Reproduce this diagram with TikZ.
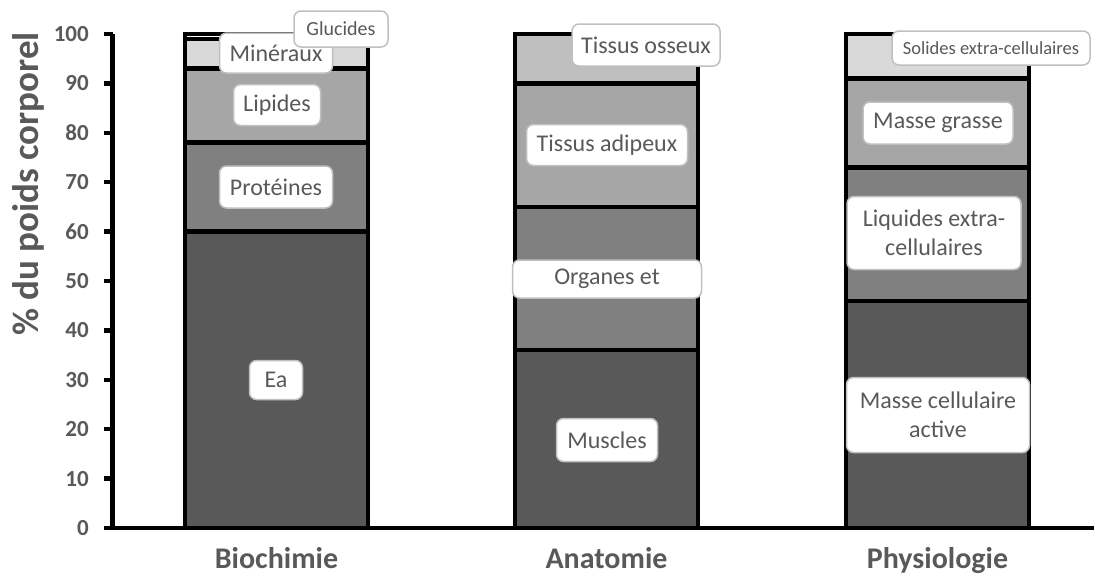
\documentclass[tikz,border=0pt]{standalone}
\usepackage{fontspec}
\setmainfont{Carlito}
\definecolor{txt}{HTML}{595959}
\definecolor{ca}{HTML}{595959}
\definecolor{cb}{HTML}{808080}
\definecolor{cc}{HTML}{A6A6A6}
\definecolor{cd}{HTML}{BFBFBF}
\definecolor{ce}{HTML}{D9D9D9}
\definecolor{bord}{HTML}{C0C0C0}
\tikzset{
  segbox/.style={draw=black, line width=4.5pt},
  lab/.style={draw=bord, line width=1.5pt, fill=white, rounded corners=7pt, text=txt,
    font=\fontsize{24}{29}\selectfont, align=center, inner sep=0pt},
  smalllab/.style={lab, font=\fontsize{20}{24}\selectfont},
  ticklab/.style={text=txt, font=\bfseries\fontsize{23}{25}\selectfont, anchor=east, inner sep=0pt},
  catlab/.style={text=txt, font=\bfseries\fontsize{30}{34}\selectfont, inner sep=0pt, anchor=base},
  axisline/.style={draw=black, line width=4.5pt},
}
\newcommand\mkseg[5]{\filldraw[segbox, fill=#5] (#1,{528-4.94*#3}) rectangle (#2,{528-4.94*#4});}
\begin{document}
\begin{tikzpicture}[x=1pt,y=-1pt]
\useasboundingbox (0,0) rectangle (1094,576);
% bars
\mkseg{185}{368}{0}{60}{ca}
\mkseg{185}{368}{60}{78}{cb}
\mkseg{185}{368}{78}{93}{cc}
\mkseg{185}{368}{93}{99}{ce}
\mkseg{185}{368}{99}{100}{white}
\mkseg{515}{698}{0}{36}{ca}
\mkseg{515}{698}{36}{65}{cb}
\mkseg{515}{698}{65}{90}{cc}
\mkseg{515}{698}{90}{100}{cd}
\mkseg{846}{1029}{0}{46}{ca}
\mkseg{846}{1029}{46}{73}{cb}
\mkseg{846}{1029}{73}{91}{cc}
\mkseg{846}{1029}{91}{100}{ce}
% axes
\coordinate (o) at (112.5,528);
\coordinate (ytop) at (112.5,34);
\coordinate (xend) at (1094,528);
\draw[axisline, line width=4pt] (o) -- (xend);
\draw[axisline] (ytop) -- (o);
\foreach \v in {0,10,...,100}{
  \coordinate (t\v) at (104,{528-4.94*\v});
  \draw[line width=4.5pt] (t\v) -- ++(9,0);
  \node[ticklab] (n\v) at (89,{528-4.94*\v}) {\v};
}
% axis title
\node[text=txt, font=\bfseries\fontsize{37}{40}\selectfont, rotate=90, inner sep=0pt] (ytitle) at (28,184) {\% du poids corporel};
% categories
\node[catlab] (bio) at (276.5,568) {Biochimie};
\node[catlab] (ana) at (606.5,568) {Anatomie};
\node[catlab] (phy) at (937.5,568) {Physiologie};
% labels
\node[lab, minimum width=113pt, minimum height=40pt] (min) at (276,53) {Minéraux};
\node[smalllab, minimum width=94pt, minimum height=36pt] (glu) at (341,29) {Glucides};
\node[lab, minimum width=87pt, minimum height=41pt] (lip) at (277,105) {Lipides};
\node[lab, minimum width=113pt, minimum height=42pt] (pro) at (276,187) {Protéines};
\node[lab, minimum width=53pt, minimum height=39pt] (eau) at (276,380) {Ea};
\node[lab, minimum width=148pt, minimum height=42pt] (oss) at (646,45) {Tissus osseux};
\node[lab, minimum width=161pt, minimum height=41pt] (adi) at (607,145) {Tissus adipeux};
\node[lab, minimum width=189pt, minimum height=38pt] (org) at (607,279) {Organes et};
\node[lab, minimum width=101pt, minimum height=43pt] (mus) at (607,440) {Muscles};
\node[smalllab, font=\fontsize{18.5}{22}\selectfont, minimum width=198pt, minimum height=34pt] (sol) at (991,48) {Solides extra-cellulaires};
\node[lab, minimum width=150pt, minimum height=42pt] (gra) at (938,123) {Masse grasse};
\node[lab, minimum width=174pt, minimum height=73pt] (liq) at (934,233) {Liquides extra-\\cellulaires};
\node[lab, minimum width=183pt, minimum height=75pt] (mca) at (938,415) {Masse cellulaire\\active};
\end{tikzpicture}
\end{document}
